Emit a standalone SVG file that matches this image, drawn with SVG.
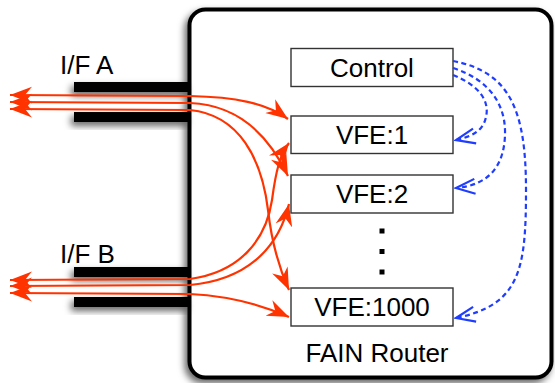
<svg xmlns="http://www.w3.org/2000/svg" width="555" height="383" viewBox="0 0 555 383">
  <style>
    .lbl { font-family: "Liberation Sans", Arial, sans-serif; font-size: 26px; fill: #000; }
    .mid { text-anchor: middle; }
    .box { fill: #fff; stroke: #333; stroke-width: 1.4; }
    .bar { fill: #000; }
    .flow { fill: none; stroke: #ff3300; stroke-width: 2.2; marker-start: url(#redHead); marker-end: url(#redHead); }
    .ctl { fill: none; stroke: #1f3dff; stroke-width: 2.2; stroke-dasharray: 5 3.5; marker-end: url(#blueHead); }
  </style>
  <defs>
    <filter id="shadow" x="-20%" y="-20%" width="140%" height="140%">
      <feDropShadow dx="-3" dy="4" stdDeviation="3.5" flood-color="#000" flood-opacity="0.6"/>
    </filter>
    <marker id="redHead" viewBox="-22 -9 24 18" refX="0" refY="0" markerWidth="24" markerHeight="18" markerUnits="userSpaceOnUse" orient="auto-start-reverse">
      <path d="M0,0 L-22,-8.5 L-15,0 L-22,8.5 Z" fill="#ff3300"/>
    </marker>
    <marker id="blueHead" viewBox="-21 -9 23 18" refX="0" refY="0" markerWidth="23" markerHeight="18" markerUnits="userSpaceOnUse" orient="auto">
      <path d="M-19,-7.5 L0,0 L-19,7.5" fill="none" stroke="#1f3dff" stroke-width="2.2"/>
    </marker>
  </defs>

  <!-- router chassis -->
  <g id="router">
    <rect x="189.5" y="9.5" width="362" height="368" rx="16" fill="#fff" stroke="#000" stroke-width="4" filter="url(#shadow)"/>
    <text class="lbl mid" x="377" y="362">FAIN Router</text>
  </g>

  <!-- interfaces -->
  <g id="ifA">
    <g filter="url(#shadow)">
      <rect class="bar" x="74" y="82" width="116" height="10"/>
      <rect class="bar" x="74" y="112" width="116" height="10"/>
    </g>
    <text class="lbl" x="60" y="74">I/F A</text>
  </g>
  <g id="ifB">
    <g filter="url(#shadow)">
      <rect class="bar" x="74" y="267" width="116" height="10"/>
      <rect class="bar" x="74" y="297" width="116" height="10"/>
    </g>
    <text class="lbl" x="60" y="263">I/F B</text>
  </g>

  <!-- forwarding elements -->
  <g id="control">
    <rect class="box" x="291" y="48.5" width="162" height="38"/>
    <text class="lbl mid" x="372" y="77">Control</text>
  </g>
  <g id="vfe1">
    <rect class="box" x="291" y="116" width="162" height="37.5"/>
    <text class="lbl mid" x="372" y="144">VFE:1</text>
  </g>
  <g id="vfe2">
    <rect class="box" x="291" y="175" width="162" height="38"/>
    <text class="lbl mid" x="372" y="203">VFE:2</text>
  </g>
  <g id="ellipsis">
    <rect x="379.5" y="228.5" width="5" height="5"/>
    <rect x="379.5" y="249" width="5" height="5"/>
    <rect x="379.5" y="269.5" width="5" height="5"/>
  </g>
  <g id="vfe1000">
    <rect class="box" x="291" y="288" width="162" height="38"/>
    <text class="lbl mid" x="372" y="316">VFE:1000</text>
  </g>

  <!-- connectors -->
  <g id="connectors">
    <path class="flow" d="M10,95 L190,96 C235,97 266,103 288,119"/>
    <path class="flow" d="M10,102 L190,103 C240,105 270,138 288,176"/>
    <path class="flow" d="M10,109 L190,110 C240,115 262,160 268,210 C272,245 279,268 289,290"/>
    <path class="flow" d="M10,280 L190,279 C240,272 266,240 272,200 C276,170 280,155 289,143"/>
    <path class="flow" d="M10,286 L190,285 C245,280 278,250 289,204"/>
    <path class="flow" d="M10,293 L190,294 C230,296 262,305 289,317"/>

    <path class="ctl" d="M453,75 C478,85 490,100 486,117 C483,132 470,137 456,140"/>
    <path class="ctl" d="M453,68 C490,80 506,105 505,135 C504,165 490,185 456,188"/>
    <path class="ctl" d="M453,61 C510,72 526,110 526,190 C526,270 520,305 456,318"/>
  </g>
</svg>
